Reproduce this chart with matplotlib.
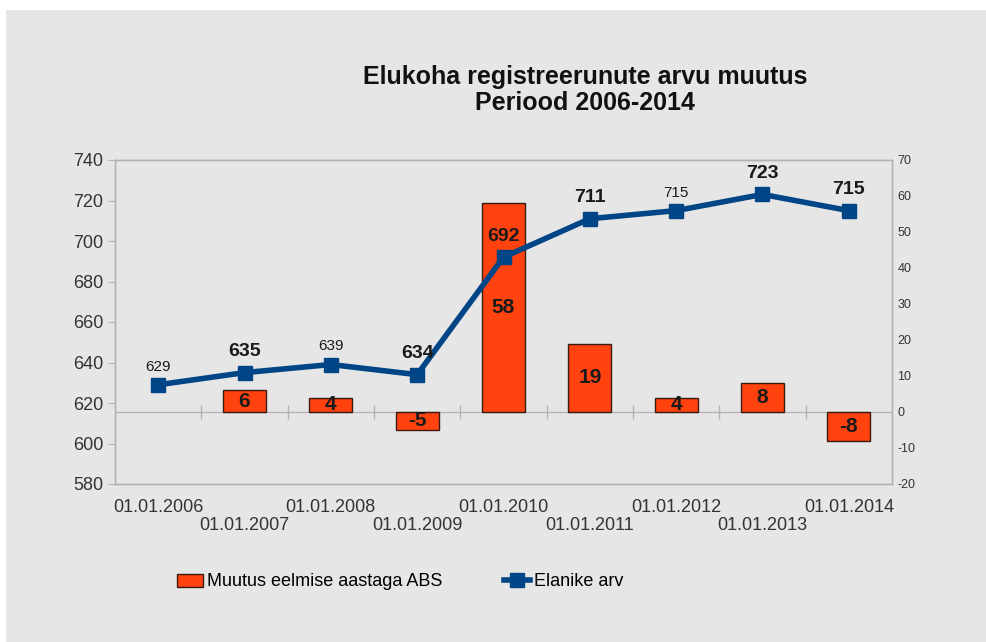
import numpy as np
import matplotlib.pyplot as plt
from matplotlib.patches import Rectangle, Patch
from matplotlib.lines import Line2D

plt.rcParams['font.family'] = ['Liberation Sans', 'DejaVu Sans']
plt.rcParams['axes.unicode_minus'] = False

# andmed
kuupaevad = ["01.01.2006", "01.01.2007", "01.01.2008", "01.01.2009", "01.01.2010",
             "01.01.2011", "01.01.2012", "01.01.2013", "01.01.2014"]
elanikud = [629, 635, 639, 634, 692, 711, 715, 723, 715]
muutus = [np.nan, 6, 4, -5, 58, 19, 4, 8, -8]
# millised sildid on suured/paksud
suur_silt = [False, True, False, True, True, True, False, True, True]

sinine = "#004586"
punane = "#ff420e"
hall_taust = "#e6e6e6"
telg = "#b3b3b3"

fig = plt.figure(figsize=(9.87, 6.42), dpi=100, facecolor="white")
fig.patches.append(Rectangle((6 / 987, 0), 1, 1 - 10 / 642, transform=fig.transFigure,
                             facecolor=hall_taust, edgecolor="none", zorder=-10))

ax = fig.add_axes([115 / 987, 1 - 484 / 642, (892 - 115) / 987, (484 - 160) / 642])
ax2 = ax.twinx()
ax.set_zorder(ax2.get_zorder() + 1)
ax.patch.set_visible(False)
ax2.patch.set_visible(False)

x = np.arange(len(kuupaevad))

# tulbad (parem telg)
ax2.bar(x, muutus, width=0.5, color=punane, edgecolor="#3a1a10", linewidth=1.0, zorder=3)
ax2.axhline(0, color=telg, linewidth=1.0, zorder=2)
ax2.vlines(x[:-1] + 0.5, -2, 2, color=telg, linewidth=1.0, zorder=2)
for xi, v in zip(x, muutus):
    if np.isnan(v):
        continue
    ax2.text(xi, v / 2, f"{v:.0f}", ha="center", va="center", fontsize=15,
             fontweight="bold", color="#1a1a1a", zorder=4)

# joon (vasak telg)
ax.plot(x, elanikud, color=sinine, linewidth=4, marker="s", markersize=10, zorder=5)
for xi, v, s in zip(x, elanikud, suur_silt):
    ax.annotate(str(v), (xi, v), xytext=(0, 15 if s else 13), textcoords="offset points",
                ha="center", va="center",
                fontsize=14 if s else 11, fontweight="bold" if s else "normal",
                color="#1a1a1a", zorder=6)

ax.set_xlim(-0.5, len(x) - 0.5)
ax.set_ylim(580, 740)
ax.set_yticks(np.arange(580, 741, 20))
ax2.set_ylim(-20, 70)
ax2.set_yticks(np.arange(-20, 71, 10))

ax.set_xticks(x)
ax.set_xticklabels([k if i % 2 == 0 else "\n" + k for i, k in enumerate(kuupaevad)],
                   linespacing=1.05)
ax.tick_params(axis="x", length=0, labelsize=13, labelcolor="#333333", pad=11)
ax.tick_params(axis="y", length=5, color=telg, labelsize=13, labelcolor="#333333")
ax2.tick_params(axis="y", length=0, labelsize=9, labelcolor="#333333", pad=4)

for a in (ax, ax2):
    for sp in a.spines.values():
        sp.set_color(telg)
        sp.set_linewidth(1.0)

fig.text(585 / 987, 1 - 90 / 642, "Elukoha registreerunute arvu muutus\nPeriood 2006-2014",
         ha="center", va="center", fontsize=18, fontweight="bold", linespacing=1.1,
         color="#111111")

kasitsed = [Patch(facecolor=punane, edgecolor="#3a1a10", linewidth=1.0),
            Line2D([0], [0], color=sinine, linewidth=4, marker="s", markersize=10)]
fig.legend(kasitsed, ["Muutus eelmise aastaga ABS", "Elanike arv"],
           loc="center", bbox_to_anchor=(400 / 987, 1 - 582 / 642), ncol=2,
           frameon=False, fontsize=13, handlelength=1.45, handletextpad=0.22,
           columnspacing=3.4)

fig.savefig("out.png", dpi=100, facecolor=fig.get_facecolor())
